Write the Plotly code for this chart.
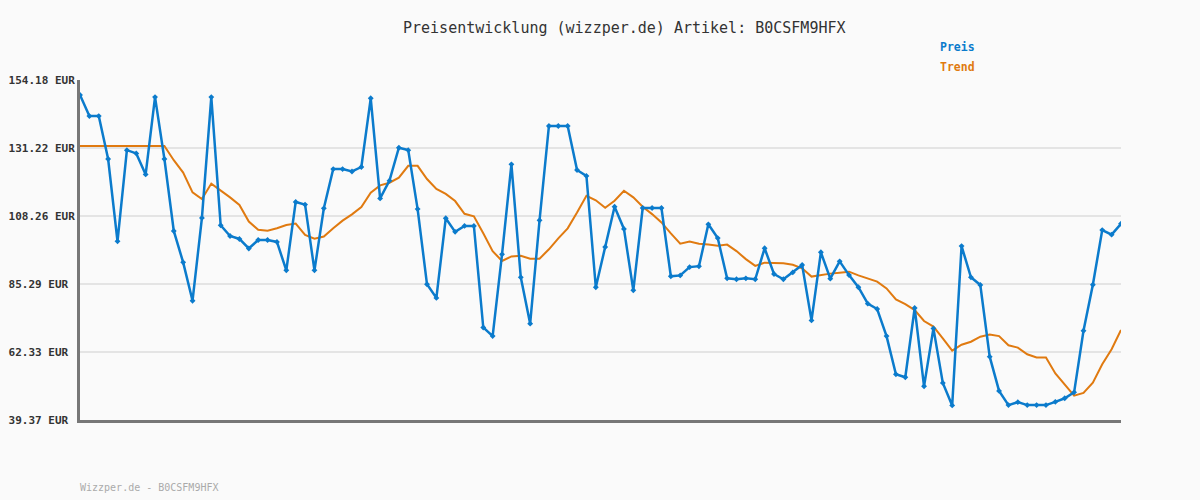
import plotly.graph_objects as go

title_text = "Preisentwicklung (wizzper.de) Artikel: B0CSFM9HFX"
footer_text = "Wizzper.de - B0CSFM9HFX"
series_names = ["Preis", "Trend"]

preis = [
    149.1, 142.0, 142.0, 127.5, 99.7, 130.5, 129.4, 122.3, 148.4, 127.5,
    103.2, 92.6, 79.65, 107.6, 148.4, 105.1, 101.5, 100.5, 97.3, 100.15,
    100.15, 99.5, 89.9, 113.0, 112.1, 89.9, 110.85, 124.1, 124.1, 123.3,
    124.8, 148.0, 114.2, 120.2, 131.3, 130.5, 110.6, 85.2, 80.6, 107.5,
    102.9, 104.9, 104.9, 70.6, 67.7, 95.3, 125.7, 87.55, 71.9, 106.8,
    138.65, 138.65, 138.65, 123.8, 121.8, 84.2, 97.8, 111.4, 103.9, 83.15,
    110.96, 110.96, 110.96, 87.9, 88.2, 91.0, 91.3, 105.45, 100.8, 87.2,
    86.9, 87.2, 86.9, 97.35, 88.67, 86.9, 89.2, 91.7, 73.0, 96.0,
    87.1, 92.95, 88.3, 84.2, 78.65, 76.85, 67.7, 54.8, 53.8, 77.2,
    50.75, 70.3, 51.9, 44.3, 98.1, 87.55, 84.95, 60.75, 49.2, 44.4,
    45.4, 44.4, 44.4, 44.4, 45.5, 46.7, 48.7, 69.5, 85.05, 103.5,
    101.95, 105.65,
]

trend = [
    131.9, 131.9, 131.9, 131.9, 131.9, 131.9, 131.9, 131.9, 131.9, 131.9,
    127.1, 122.9, 116.25, 114.0, 119.2, 117.0, 114.55, 111.97, 106.4, 103.6,
    103.3, 104.1, 105.2, 105.7, 101.9, 100.6, 101.3, 104.1, 106.7, 108.8,
    111.3, 116.1, 118.6, 119.5, 121.2, 125.2, 125.2, 120.75, 117.4, 115.7,
    113.3, 109.0, 108.15, 102.4, 96.4, 93.06, 94.6, 94.85, 93.85, 93.85,
    97.0, 100.7, 104.1, 109.4, 115.1, 113.55, 111.05, 113.4, 116.8, 114.55,
    111.4, 108.9, 106.1, 102.4, 98.9, 99.6, 98.9, 98.6, 98.2, 98.6,
    96.4, 93.7, 91.4, 92.5, 92.5, 92.3, 91.8, 90.6, 87.8, 88.4,
    88.8, 89.1, 89.45, 88.2, 87.1, 86.1, 83.8, 80.1, 78.5, 76.5,
    72.8, 70.9, 66.95, 62.8, 64.8, 65.8, 67.5, 68.2, 67.7, 64.6,
    63.8, 61.55, 60.5, 60.5, 55.1, 51.3, 47.6, 48.5, 52.0, 58.2,
    63.25, 69.76,
]

x_idx = list(range(len(preis)))

y_ticks = [39.37, 62.33, 85.29, 108.26, 131.22, 154.18]
y_labels = ["39.37 EUR", "62.33 EUR", "85.29 EUR", "108.26 EUR", "131.22 EUR", "154.18 EUR"]

BLUE = "#0b7bcc"
ORANGE = "#e07a10"
MONO = "DejaVu Sans Mono"

# left-aligned labels: pad shorter labels with non-breaking spaces (monospace font)
maxlen = max(len(s) for s in y_labels)
tick_text = ["<b>" + s + "\u00a0" * (maxlen - len(s)) + "</b>" for s in y_labels]

fig = go.Figure()
fig.add_trace(go.Scatter(
    x=x_idx, y=trend, mode="lines", name=series_names[1],
    line=dict(color=ORANGE, width=2),
))
fig.add_trace(go.Scatter(
    x=x_idx, y=preis, mode="lines+markers", name=series_names[0],
    line=dict(color=BLUE, width=2.5),
    marker=dict(symbol="diamond", size=4.5, color=BLUE),
))

fig.update_layout(
    width=1200, height=500,
    margin=dict(l=80, r=79, t=80, b=80, autoexpand=False),
    paper_bgcolor="#fafafa", plot_bgcolor="#fafafa",
    showlegend=False,
    font=dict(family=MONO, color="#333333"),
    xaxis=dict(
        range=[0, len(preis) - 1], showgrid=False, zeroline=False,
        showticklabels=False, ticks="", automargin=False,
        showline=True, linecolor="#777777", linewidth=3,
    ),
    yaxis=dict(
        range=[y_ticks[0], y_ticks[-1]], tickvals=y_ticks, ticktext=tick_text,
        showgrid=True, gridcolor="#e4e4e4", gridwidth=2, zeroline=False,
        showline=True, linecolor="#777777", linewidth=3, ticks="",
        tickfont=dict(family=MONO, size=11, color="#333333"),
        ticklabelstandoff=0, automargin=False,
    ),
    annotations=[
        dict(text=title_text, xref="paper", yref="paper", x=(624 - 80) / 1041,
             y=(420 - 28) / 340, xanchor="center", yanchor="middle", showarrow=False,
             font=dict(family=MONO, size=15, color="#333333")),
        dict(text="<b>" + series_names[0] + "</b>", xref="paper", yref="paper",
             x=(938 - 80) / 1041, y=(420 - 47) / 340, xanchor="left", yanchor="middle",
             showarrow=False, font=dict(family=MONO, size=11.5, color=BLUE)),
        dict(text="<b>" + series_names[1] + "</b>", xref="paper", yref="paper",
             x=(938 - 80) / 1041, y=(420 - 67) / 340, xanchor="left", yanchor="middle",
             showarrow=False, font=dict(family=MONO, size=11.5, color=ORANGE)),
        dict(text=footer_text, xref="paper", yref="paper",
             x=-2 / 1041, y=(420 - 487) / 340, xanchor="left", yanchor="middle",
             showarrow=False, font=dict(family=MONO, size=10, color="#aaaaaa")),
    ],
)

fig.write_html("out.html")
